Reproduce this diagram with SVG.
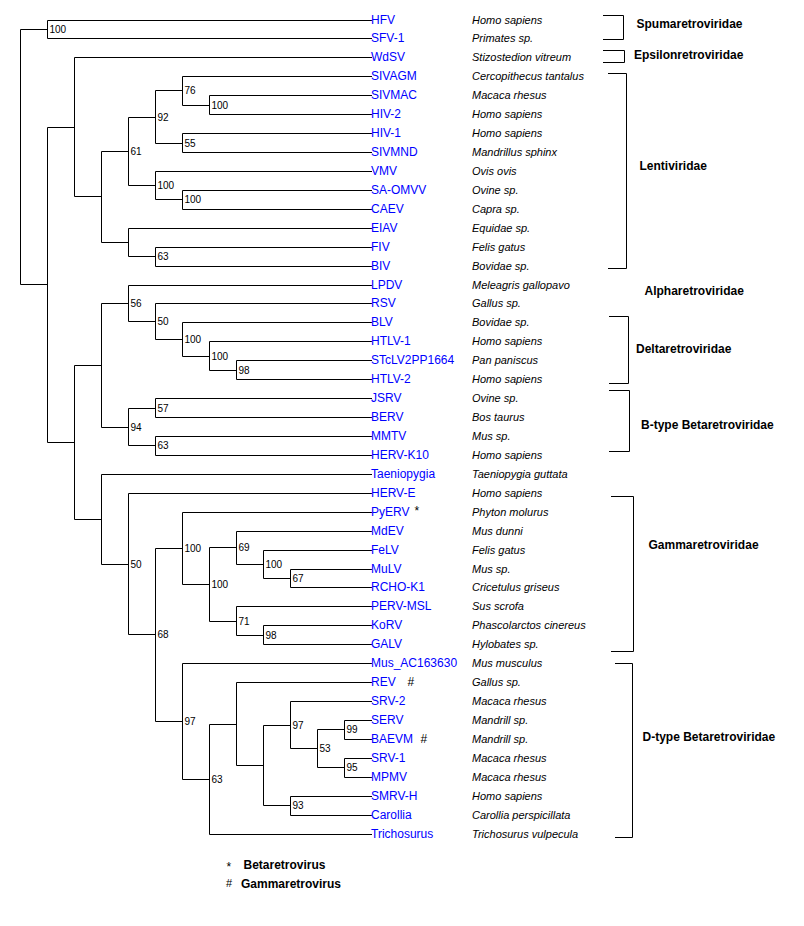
<svg xmlns="http://www.w3.org/2000/svg" width="804" height="926" viewBox="0 0 804 926">
<style>
.e{fill:none;stroke:#000;stroke-width:1;stroke-linecap:square;stroke-linejoin:miter}
.b{font-family:"Liberation Sans",Arial,sans-serif;font-size:10px;fill:#000}
.n{font-family:"Liberation Sans",Arial,sans-serif;font-size:12px;fill:#0000ff}
.s{font-family:"Liberation Sans",Arial,sans-serif;font-size:11px;font-style:italic;fill:#000}
.f{font-family:"Liberation Sans",Arial,sans-serif;font-size:12px;font-weight:bold;fill:#000}
.m{font-family:"Liberation Sans",Arial,sans-serif;font-size:12px;fill:#000}
.br{fill:none;stroke:#000;stroke-width:1}
</style>
<rect width="804" height="926" fill="#fff"/>
<g id="connectors" class="e">
<path d="M20.5 156.5V29.5H47.5"/><path d="M20.5 156.5V284.5H47.5"/>
<path d="M47.5 29.5V20.5H371.5"/><path d="M47.5 29.5V38.5H371.5"/>
<path d="M47.5 284.5V127.5H74.5"/><path d="M47.5 284.5V442.5H74.5"/>
<path d="M74.5 127.5V57.5H371.5"/><path d="M74.5 127.5V196.5H101.5"/>
<path d="M101.5 196.5V151.5H128.5"/><path d="M101.5 196.5V242.5H128.5"/>
<path d="M128.5 151.5V117.5H155.5"/><path d="M128.5 151.5V185.5H155.5"/>
<path d="M155.5 117.5V90.5H182.5"/><path d="M155.5 117.5V143.5H182.5"/>
<path d="M182.5 90.5V76.5H371.5"/><path d="M182.5 90.5V105.5H209.5"/>
<path d="M209.5 105.5V95.5H371.5"/><path d="M209.5 105.5V114.5H371.5"/>
<path d="M182.5 143.5V133.5H371.5"/><path d="M182.5 143.5V152.5H371.5"/>
<path d="M155.5 185.5V171.5H371.5"/><path d="M155.5 185.5V199.5H182.5"/>
<path d="M182.5 199.5V190.5H371.5"/><path d="M182.5 199.5V209.5H371.5"/>
<path d="M128.5 242.5V228.5H371.5"/><path d="M128.5 242.5V256.5H155.5"/>
<path d="M155.5 256.5V247.5H371.5"/><path d="M155.5 256.5V266.5H371.5"/>
<path d="M74.5 442.5V365.5H101.5"/><path d="M74.5 442.5V519.5H101.5"/>
<path d="M101.5 365.5V303.5H128.5"/><path d="M101.5 365.5V427.5H128.5"/>
<path d="M128.5 303.5V285.5H371.5"/><path d="M128.5 303.5V321.5H155.5"/>
<path d="M155.5 321.5V303.5H371.5"/><path d="M155.5 321.5V339.5H182.5"/>
<path d="M182.5 339.5V322.5H371.5"/><path d="M182.5 339.5V356.5H209.5"/>
<path d="M209.5 356.5V341.5H371.5"/><path d="M209.5 356.5V370.5H236.5"/>
<path d="M236.5 370.5V360.5H371.5"/><path d="M236.5 370.5V379.5H371.5"/>
<path d="M128.5 427.5V408.5H155.5"/><path d="M128.5 427.5V445.5H155.5"/>
<path d="M155.5 408.5V398.5H371.5"/><path d="M155.5 408.5V417.5H371.5"/>
<path d="M155.5 445.5V436.5H371.5"/><path d="M155.5 445.5V455.5H371.5"/>
<path d="M101.5 519.5V474.5H371.5"/><path d="M101.5 519.5V564.5H128.5"/>
<path d="M128.5 564.5V493.5H371.5"/><path d="M128.5 564.5V634.5H155.5"/>
<path d="M155.5 634.5V548.5H182.5"/><path d="M155.5 634.5V721.5H182.5"/>
<path d="M182.5 548.5V512.5H371.5"/><path d="M182.5 548.5V584.5H209.5"/>
<path d="M209.5 584.5V547.5H236.5"/><path d="M209.5 584.5V621.5H236.5"/>
<path d="M236.5 547.5V531.5H371.5"/><path d="M236.5 547.5V564.5H263.5"/>
<path d="M263.5 564.5V550.5H371.5"/><path d="M263.5 564.5V578.5H290.5"/>
<path d="M290.5 578.5V569.5H371.5"/><path d="M290.5 578.5V587.5H371.5"/>
<path d="M236.5 621.5V606.5H371.5"/><path d="M236.5 621.5V635.5H263.5"/>
<path d="M263.5 635.5V625.5H371.5"/><path d="M263.5 635.5V644.5H371.5"/>
<path d="M182.5 721.5V663.5H371.5"/><path d="M182.5 721.5V779.5H209.5"/>
<path d="M209.5 779.5V724.5H236.5"/><path d="M209.5 779.5V834.5H371.5"/>
<path d="M236.5 724.5V682.5H371.5"/><path d="M236.5 724.5V765.5H263.5"/>
<path d="M263.5 765.5V725.5H290.5"/><path d="M263.5 765.5V805.5H290.5"/>
<path d="M290.5 725.5V701.5H371.5"/><path d="M290.5 725.5V748.5H317.5"/>
<path d="M317.5 748.5V729.5H344.5"/><path d="M317.5 748.5V767.5H344.5"/>
<path d="M344.5 729.5V720.5H371.5"/><path d="M344.5 729.5V739.5H371.5"/>
<path d="M344.5 767.5V758.5H371.5"/><path d="M344.5 767.5V777.5H371.5"/>
<path d="M290.5 805.5V796.5H371.5"/><path d="M290.5 805.5V815.5H371.5"/>
</g>
<g id="internal-nodes" class="b">
<g id="n-spuma"><text x="49.5" y="32.5">100</text></g>
<g id="n61"><text x="130.5" y="154.5">61</text></g>
<g id="n92"><text x="157.5" y="120.5">92</text></g>
<g id="n76"><text x="184.5" y="93.5">76</text></g>
<g id="n100-sivmac"><text x="211.5" y="108.5">100</text></g>
<g id="n55"><text x="184.5" y="146.5">55</text></g>
<g id="n100-vmv"><text x="157.5" y="188.5">100</text></g>
<g id="n100-saomvv"><text x="184.5" y="202.5">100</text></g>
<g id="n63-fiv"><text x="157.5" y="259.5">63</text></g>
<g id="n56"><text x="130.5" y="306.5">56</text></g>
<g id="n50-rsv"><text x="157.5" y="324.5">50</text></g>
<g id="n100-blv"><text x="184.5" y="342.5">100</text></g>
<g id="n100-htlv"><text x="211.5" y="359.5">100</text></g>
<g id="n98-stlv"><text x="238.5" y="373.5">98</text></g>
<g id="n94"><text x="130.5" y="430.5">94</text></g>
<g id="n57"><text x="157.5" y="411.5">57</text></g>
<g id="n63-mmtv"><text x="157.5" y="448.5">63</text></g>
<g id="n50-gamma"><text x="130.5" y="567.5">50</text></g>
<g id="n68"><text x="157.5" y="637.5">68</text></g>
<g id="n100-pyerv"><text x="184.5" y="551.5">100</text></g>
<g id="n100-gamma"><text x="211.5" y="587.5">100</text></g>
<g id="n69"><text x="238.5" y="550.5">69</text></g>
<g id="n100-felv"><text x="265.5" y="567.5">100</text></g>
<g id="n67"><text x="292.5" y="581.5">67</text></g>
<g id="n71"><text x="238.5" y="624.5">71</text></g>
<g id="n98-korv"><text x="265.5" y="638.5">98</text></g>
<g id="n97-mus"><text x="184.5" y="724.5">97</text></g>
<g id="n63-dtype"><text x="211.5" y="782.5">63</text></g>
<g id="n97-srv"><text x="292.5" y="728.5">97</text></g>
<g id="n53"><text x="319.5" y="751.5">53</text></g>
<g id="n99"><text x="346.5" y="732.5">99</text></g>
<g id="n95"><text x="346.5" y="770.5">95</text></g>
<g id="n93"><text x="292.5" y="808.5">93</text></g>
</g>
<g id="leaves">
<g id="leaf-HFV"><text class="n" x="371" y="24">HFV</text><text class="s" x="472" y="23.5">Homo sapiens</text></g>
<g id="leaf-SFV-1"><text class="n" x="371" y="42">SFV-1</text><text class="s" x="472" y="41.5">Primates sp.</text></g>
<g id="leaf-WdSV"><text class="n" x="371" y="61">WdSV</text><text class="s" x="472" y="60.5">Stizostedion vitreum</text></g>
<g id="leaf-SIVAGM"><text class="n" x="371" y="80">SIVAGM</text><text class="s" x="472" y="79.5">Cercopithecus tantalus</text></g>
<g id="leaf-SIVMAC"><text class="n" x="371" y="99">SIVMAC</text><text class="s" x="472" y="98.5">Macaca rhesus</text></g>
<g id="leaf-HIV-2"><text class="n" x="371" y="118">HIV-2</text><text class="s" x="472" y="117.5">Homo sapiens</text></g>
<g id="leaf-HIV-1"><text class="n" x="371" y="137">HIV-1</text><text class="s" x="472" y="136.5">Homo sapiens</text></g>
<g id="leaf-SIVMND"><text class="n" x="371" y="156">SIVMND</text><text class="s" x="472" y="155.5">Mandrillus sphinx</text></g>
<g id="leaf-VMV"><text class="n" x="371" y="175">VMV</text><text class="s" x="472" y="174.5">Ovis ovis</text></g>
<g id="leaf-SA-OMVV"><text class="n" x="371" y="194">SA-OMVV</text><text class="s" x="472" y="193.5">Ovine sp.</text></g>
<g id="leaf-CAEV"><text class="n" x="371" y="213">CAEV</text><text class="s" x="472" y="212.5">Capra sp.</text></g>
<g id="leaf-EIAV"><text class="n" x="371" y="232">EIAV</text><text class="s" x="472" y="231.5">Equidae sp.</text></g>
<g id="leaf-FIV"><text class="n" x="371" y="251">FIV</text><text class="s" x="472" y="250.5">Felis gatus</text></g>
<g id="leaf-BIV"><text class="n" x="371" y="270">BIV</text><text class="s" x="472" y="269.5">Bovidae sp.</text></g>
<g id="leaf-LPDV"><text class="n" x="371" y="289">LPDV</text><text class="s" x="472" y="288.5">Meleagris gallopavo</text></g>
<g id="leaf-RSV"><text class="n" x="371" y="307">RSV</text><text class="s" x="472" y="306.5">Gallus sp.</text></g>
<g id="leaf-BLV"><text class="n" x="371" y="326">BLV</text><text class="s" x="472" y="325.5">Bovidae sp.</text></g>
<g id="leaf-HTLV-1"><text class="n" x="371" y="345">HTLV-1</text><text class="s" x="472" y="344.5">Homo sapiens</text></g>
<g id="leaf-STcLV2PP1664"><text class="n" x="371" y="364">STcLV2PP1664</text><text class="s" x="472" y="363.5">Pan paniscus</text></g>
<g id="leaf-HTLV-2"><text class="n" x="371" y="383">HTLV-2</text><text class="s" x="472" y="382.5">Homo sapiens</text></g>
<g id="leaf-JSRV"><text class="n" x="371" y="402">JSRV</text><text class="s" x="472" y="401.5">Ovine sp.</text></g>
<g id="leaf-BERV"><text class="n" x="371" y="421">BERV</text><text class="s" x="472" y="420.5">Bos taurus</text></g>
<g id="leaf-MMTV"><text class="n" x="371" y="440">MMTV</text><text class="s" x="472" y="439.5">Mus sp.</text></g>
<g id="leaf-HERV-K10"><text class="n" x="371" y="459">HERV-K10</text><text class="s" x="472" y="458.5">Homo sapiens</text></g>
<g id="leaf-Taeniopygia"><text class="n" x="371" y="478">Taeniopygia</text><text class="s" x="472" y="477.5">Taeniopygia guttata</text></g>
<g id="leaf-HERV-E"><text class="n" x="371" y="497">HERV-E</text><text class="s" x="472" y="496.5">Homo sapiens</text></g>
<g id="leaf-PyERV"><text class="n" x="371" y="516">PyERV</text><text class="m" x="414.5" y="514.5">*</text><text class="s" x="472" y="515.5">Phyton molurus</text></g>
<g id="leaf-MdEV"><text class="n" x="371" y="535">MdEV</text><text class="s" x="472" y="534.5">Mus dunni</text></g>
<g id="leaf-FeLV"><text class="n" x="371" y="554">FeLV</text><text class="s" x="472" y="553.5">Felis gatus</text></g>
<g id="leaf-MuLV"><text class="n" x="371" y="573">MuLV</text><text class="s" x="472" y="572.5">Mus sp.</text></g>
<g id="leaf-RCHO-K1"><text class="n" x="371" y="591">RCHO-K1</text><text class="s" x="472" y="590.5">Cricetulus griseus</text></g>
<g id="leaf-PERV-MSL"><text class="n" x="371" y="610">PERV-MSL</text><text class="s" x="472" y="609.5">Sus scrofa</text></g>
<g id="leaf-KoRV"><text class="n" x="371" y="629">KoRV</text><text class="s" x="472" y="628.5">Phascolarctos cinereus</text></g>
<g id="leaf-GALV"><text class="n" x="371" y="648">GALV</text><text class="s" x="472" y="647.5">Hylobates sp.</text></g>
<g id="leaf-Mus_AC163630"><text class="n" x="371" y="667">Mus_AC163630</text><text class="s" x="472" y="666.5">Mus musculus</text></g>
<g id="leaf-REV"><text class="n" x="371" y="686">REV</text><text class="m" x="407.5" y="686">#</text><text class="s" x="472" y="685.5">Gallus sp.</text></g>
<g id="leaf-SRV-2"><text class="n" x="371" y="705">SRV-2</text><text class="s" x="472" y="704.5">Macaca rhesus</text></g>
<g id="leaf-SERV"><text class="n" x="371" y="724">SERV</text><text class="s" x="472" y="723.5">Mandrill sp.</text></g>
<g id="leaf-BAEVM"><text class="n" x="371" y="743">BAEVM</text><text class="m" x="420.5" y="743">#</text><text class="s" x="472" y="742.5">Mandrill sp.</text></g>
<g id="leaf-SRV-1"><text class="n" x="371" y="762">SRV-1</text><text class="s" x="472" y="761.5">Macaca rhesus</text></g>
<g id="leaf-MPMV"><text class="n" x="371" y="781">MPMV</text><text class="s" x="472" y="780.5">Macaca rhesus</text></g>
<g id="leaf-SMRV-H"><text class="n" x="371" y="800">SMRV-H</text><text class="s" x="472" y="799.5">Homo sapiens</text></g>
<g id="leaf-Carollia"><text class="n" x="371" y="819">Carollia</text><text class="s" x="472" y="818.5">Carollia perspicillata</text></g>
<g id="leaf-Trichosurus"><text class="n" x="371" y="838">Trichosurus</text><text class="s" x="472" y="837.5">Trichosurus vulpecula</text></g>
</g>
<g id="families">
<g id="fam-spuma"><path class="br" d="M603 15.5H623.5V39.5H603"/><text class="f" x="636.5" y="27.5">Spumaretroviridae</text></g>
<g id="fam-epsilon"><path class="br" d="M603 50.5H624.5V62.5H603"/><text class="f" x="634" y="59">Epsilonretroviridae</text></g>
<g id="fam-lenti"><path class="br" d="M608 73.5H626.5V268.5H608"/><text class="f" x="639.5" y="170">Lentiviridae</text></g>
<g id="fam-alpha"><text class="f" x="644.5" y="295">Alpharetroviridae</text></g>
<g id="fam-delta"><path class="br" d="M609 316.5H628.5V383.5H609"/><text class="f" x="636" y="353">Deltaretroviridae</text></g>
<g id="fam-btype"><path class="br" d="M609 390.5H629.5V451.5H609"/><text class="f" x="641" y="429">B-type Betaretroviridae</text></g>
<g id="fam-gamma"><path class="br" d="M611 496.5H633.5V651.5H611"/><text class="f" x="648.5" y="549">Gammaretroviridae</text></g>
<g id="fam-dtype"><path class="br" d="M615 663.5H632.5V837.5H615"/><text class="f" x="642.5" y="740.5">D-type Betaretroviridae</text></g>
</g>
<g id="legend">
<text class="m" x="226.5" y="871">*</text><text class="f" x="243.5" y="869">Betaretrovirus</text>
<text class="m" x="226" y="887" style="font-size:11px">#</text><text class="f" x="241" y="888">Gammaretrovirus</text>
</g>
</svg>
